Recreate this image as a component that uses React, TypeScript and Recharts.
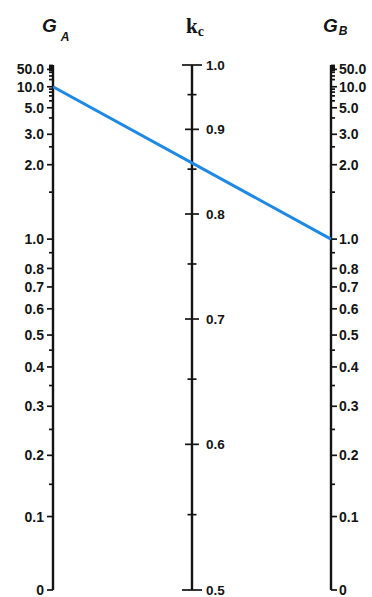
import React from 'react';
import { ComposedChart, XAxis, YAxis, Scatter, Line, ReferenceLine } from 'recharts';

const gMajorValues = [0, 0.1, 0.2, 0.3, 0.4, 0.5, 0.6, 0.7, 0.8, 1.0, 2.0, 3.0, 5.0, 10.0, 50.0];
const gMajorLabels = ['0', '0.1', '0.2', '0.3', '0.4', '0.5', '0.6', '0.7', '0.8', '1.0', '2.0', '3.0', '5.0', '10.0', '50.0'];
const gMinorValues = [0.15, 0.25, 0.35, 0.45, 0.9, 1.5, 2.5, 4, 6, 7, 8, 9, 15, 20, 30, 40, 70, 100, 200, 500];
const kMajorValues = [0.5, 0.6, 0.7, 0.8, 0.9, 1.0];
const kMajorLabels = ['0.5', '0.6', '0.7', '0.8', '0.9', '1.0'];
const kMinorValues = [0.55, 0.65, 0.75, 0.85, 0.95];
const gAValue = 10.0;
const gBValue = 1.0;
const axisTitles = [
  { axis: 0, main: 'G', sub: 'A' },
  { axis: 1, main: 'k', sub: 'c' },
  { axis: 2, main: 'G', sub: 'B' },
];

// ---- Nomograph scales (braced-frame alignment chart) ----
// k-scale: smooth quadratic spacing, 0.5 at bottom, 1.0 at top
const kPos = (k: number) => {
  const d = k - 0.5;
  return 2.968 * d - 1.936 * d * d;
};
// braced frame equation: GA*GB/4 (pi/k)^2 + (GA+GB)/2 (1 - (pi/k)/tan(pi/k)) + 2 tan(pi/2k)/(pi/k) - 1 = 0
const bracedF = (G: number, k: number) => {
  const u = Math.PI / k;
  return (G * G / 4) * u * u + G * (1 - u / Math.tan(u)) + (2 * Math.tan(u / 2)) / u - 1;
};
const kSym = (G: number) => {
  if (G <= 0) return 0.5;
  if (!isFinite(G)) return 1;
  let lo = 0.5 + 1e-9;
  let hi = 1 - 1e-9;
  for (let i = 0; i < 80; i++) {
    const mid = (lo + hi) / 2;
    if (bracedF(G, mid) > 0) lo = mid;
    else hi = mid;
  }
  return (lo + hi) / 2;
};
const gPos = (G: number) => kPos(kSym(G));

// ---- Built data for series ----
const gTickData = (axis: number) => [
  ...gMajorValues.map((v, i) => ({ x: axis, y: gPos(v), label: gMajorLabels[i], major: true })),
  ...gMinorValues.map((v) => ({ x: axis, y: gPos(v), label: '', major: false })),
];
const kTickData = [
  ...kMajorValues.map((v, i) => ({ x: 1, y: kPos(v), label: kMajorLabels[i], major: true, cap: v === 0.5 || v === 1.0 })),
  ...kMinorValues.map((v) => ({ x: 1, y: kPos(v), label: '', major: false, cap: false })),
];
const alignmentLine = [
  { x: 0, y: gPos(gAValue) },
  { x: 2, y: gPos(gBValue) },
];
const titleData = axisTitles.map((t) => ({ x: t.axis, y: 1, main: t.main, sub: t.sub }));

const INK = '#141414';
const LABEL_FONT = '"Liberation Sans", Arial, sans-serif';

const LeftTick = (props: any) => {
  const { cx, cy, payload } = props;
  const len = payload.major ? 6 : 4;
  return (
    <g>
      <line x1={cx - len} x2={cx} y1={cy} y2={cy} stroke={INK} strokeWidth={1.7} />
      {payload.label ? (
        <text x={cx - 9} y={cy} dy="0.36em" textAnchor="end" fontSize={14} fontWeight="bold" fill={INK} fontFamily={LABEL_FONT}>
          {payload.label}
        </text>
      ) : null}
    </g>
  );
};

const RightTick = (props: any) => {
  const { cx, cy, payload } = props;
  const len = payload.major ? 6 : 4;
  return (
    <g>
      <line x1={cx} x2={cx + len} y1={cy} y2={cy} stroke={INK} strokeWidth={1.7} />
      {payload.label ? (
        <text x={cx + 8} y={cy} dy="0.36em" textAnchor="start" fontSize={14} fontWeight="bold" fill={INK} fontFamily={LABEL_FONT}>
          {payload.label}
        </text>
      ) : null}
    </g>
  );
};

const MiddleTick = (props: any) => {
  const { cx, cy, payload } = props;
  const half = payload.cap ? 10 : payload.major ? 7 : 4.5;
  return (
    <g>
      <line x1={cx - half} x2={cx + half} y1={cy} y2={cy} stroke={INK} strokeWidth={1.7} />
      {payload.label ? (
        <text x={cx + 14} y={cy} dy="0.36em" textAnchor="start" fontSize={13.5} fontWeight="bold" fill={INK} fontFamily={LABEL_FONT}>
          {payload.label}
        </text>
      ) : null}
    </g>
  );
};

const Title = (props: any) => {
  const { cx, cy, payload } = props;
  if (payload.main === 'k') {
    return (
      <text x={cx - 6} y={cy - 32} fill={INK} fontFamily='"Liberation Serif", "DejaVu Serif", serif' fontWeight="bold">
        <tspan fontSize={21}>{payload.main}</tspan>
        <tspan fontSize={14} dy={3}>{payload.sub}</tspan>
      </text>
    );
  }
  const left = payload.x === 0;
  return (
    <text x={cx + (left ? -11 : -8)} y={cy - 33} fill={INK} fontFamily={LABEL_FONT} fontStyle="italic" fontWeight="bold">
      <tspan fontSize={19}>{payload.main}</tspan>
      <tspan fontSize={12} dx={left ? 4 : 1} dy={left ? 9 : 3}>{payload.sub}</tspan>
    </text>
  );
};

export default function App() {
  return (
    <div style={{ position: 'absolute', left: 0, top: 0, width: 372, height: 597, background: '#fff' }}>
      <ComposedChart width={372} height={597} margin={{ top: 65, right: 41, bottom: 7, left: 53 }}>
        <XAxis type="number" dataKey="x" domain={[0, 2]} hide />
        <YAxis type="number" dataKey="y" domain={[0, 1]} hide />
        <ReferenceLine segment={[{ x: 0, y: 0 }, { x: 0, y: 1 }]} stroke={INK} strokeWidth={2.4} ifOverflow="visible" />
        <ReferenceLine segment={[{ x: 1, y: 0 }, { x: 1, y: 1 }]} stroke={INK} strokeWidth={2.4} ifOverflow="visible" />
        <ReferenceLine segment={[{ x: 2, y: 0 }, { x: 2, y: 1 }]} stroke={INK} strokeWidth={2.4} ifOverflow="visible" />
        <Scatter data={gTickData(0)} shape={LeftTick} isAnimationActive={false} />
        <Scatter data={gTickData(2)} shape={RightTick} isAnimationActive={false} />
        <Scatter data={kTickData} shape={MiddleTick} isAnimationActive={false} />
        <Scatter data={titleData} shape={Title} isAnimationActive={false} />
        <Line data={alignmentLine} dataKey="y" stroke="#1E88E5" strokeWidth={3} dot={false} isAnimationActive={false} />
      </ComposedChart>
    </div>
  );
}
